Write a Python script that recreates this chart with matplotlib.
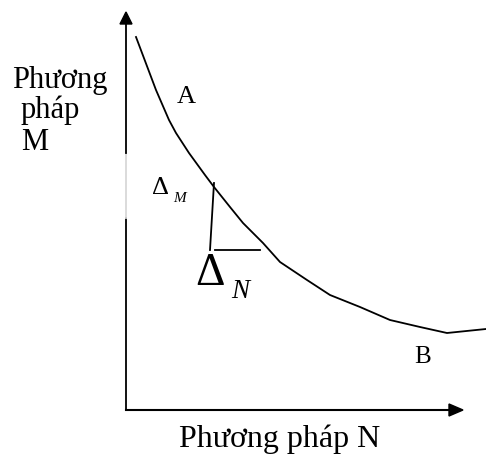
import matplotlib
matplotlib.use("Agg")
import matplotlib.pyplot as plt

# curve (origin at axes intersection)
curve_x = [10, 30, 43, 50, 63, 79, 88, 104, 117, 137, 154, 181, 204, 234, 264, 294, 321, 360]
curve_y = [373, 320, 290, 277, 257, 235, 223, 203, 187, 167, 148, 130, 115, 103, 90, 83, 77, 81]
tri_vert_x = [88, 84]
tri_vert_y = [227, 160]
tri_horz_x = [89, 134]
tri_horz_y = [160, 160]

plt.rcParams['font.family'] = ['Liberation Serif', 'DejaVu Serif']

fig = plt.figure(figsize=(4.86, 4.58), dpi=100)
ax = fig.add_axes([0, 0, 1, 1])
ax.set_xlim(-126, 360)
ax.set_ylim(-48, 410)
ax.axis('off')

# axes arrows
ax.plot([0, 0], [0, 192], color='black', lw=1.3)
ax.plot([0, 0], [192, 257], color='#d8d8d8', lw=1.3)
ax.plot([0, 0], [257, 390], color='black', lw=1.3)
ax.fill([-6, 6, 0], [386, 386, 398], color='black')
ax.plot([0, 324], [0, 0], color='black', lw=1.5)
ax.fill([323, 323, 337], [-6, 6, 0], color='black')

ax.plot(curve_x, curve_y, color='black', lw=1.3)
ax.plot(tri_vert_x, tri_vert_y, color='black', lw=1.3)
ax.plot(tri_horz_x, tri_horz_y, color='black', lw=1.3)

fs = 22
ax.text(-114, 322, 'Phương', fontsize=fs, ha='left', va='baseline')
ax.text(-105, 292, 'pháp', fontsize=fs, ha='left', va='baseline')
ax.text(-105, 260, 'M', fontsize=fs, ha='left', va='baseline')
ax.text(154, -37, 'Phương pháp N', fontsize=23, ha='center', va='baseline')

ax.text(60, 307, 'A', fontsize=19, ha='center', va='baseline')
ax.text(297, 47, 'B', fontsize=18, ha='center', va='baseline')

ax.text(34, 216, 'Δ', fontsize=19, ha='center', va='baseline')
ax.text(54, 208, 'M', fontsize=11, style='italic', ha='center', va='baseline')

ax.text(84, 125, 'Δ', fontsize=33, ha='center', va='baseline')
ax.text(114, 112, 'N', fontsize=19.5, style='italic', ha='center', va='baseline')

fig.savefig('out.png', dpi=100)
